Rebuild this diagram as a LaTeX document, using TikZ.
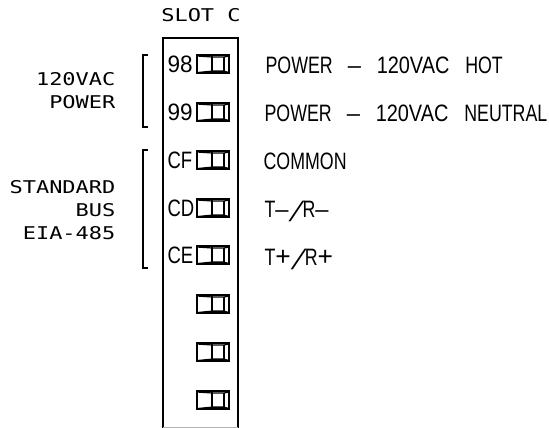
\documentclass[tikz,border=0pt]{standalone}
\usepackage{fontspec}
\newfontfamily\sigfont[FakeStretch=0.75]{Liberation Sans}
\newfontfamily\acfont[FakeStretch=0.84]{Liberation Sans}
\newfontfamily\pinfont[FakeStretch=0.78]{Liberation Sans}
\newfontfamily\numfont[FakeStretch=0.95]{Liberation Sans}
\newfontfamily\symfont{Liberation Sans}
\newfontfamily\slashfont[FakeSlant=0.4]{Liberation Sans}
\newfontfamily\sidefont[FakeStretch=1.25]{DejaVu Sans Mono}
\newcommand{\dashsym}{{\symfont –}}
\newcommand{\plussym}{{\fontsize{15}{15}\symfont +}}
\newcommand{\slashsym}{\raisebox{-2pt}{\fontsize{16}{16}\slashfont /}\hspace{3.5pt}}
\usetikzlibrary{positioning}
\tikzset{
	pinlabel/.style={anchor=west,inner sep=0pt,font=\fontsize{13.5}{15}\pinfont},
	numlabel/.style={anchor=west,inner sep=0pt,font=\fontsize{13.5}{15}\numfont},
	sigtext/.style={anchor=west,inner sep=0pt,font=\fontsize{13.5}{15}\sigfont},
	sidetext/.style={anchor=east,align=right,inner sep=0pt,font=\fontsize{10}{13}\sidefont},
	termbox/.style={draw,line width=1.1pt,minimum width=18.2pt,minimum height=9.8pt,inner sep=0pt},
}
\begin{document}
\begin{tikzpicture}[x=0.02cm,y=-0.02cm,line width=0.7pt]
	\useasboundingbox (0,0) rectangle (549,428);
	\fill[white] (0,0) rectangle (549,428);
	% connector block
	\draw (163,428) -- (163,38) -- (238,38) -- (238,428);
	\draw[gray!60] (163,427.5) -- (238,427.5);
	\node[sidetext,anchor=center] (slot) at (201,15) {SLOT C};
	% terminals
	\foreach \y/\name in {64/98,112/99,160/CF,208/CD,255/CE,304/a,352/b,400/c} {
		\node[termbox] (t\name) at (213,\y) {};
		\draw[line width=0.9pt] (212,\y-8) -- (212,\y+8);
		\draw (197,\y-8) -- (212,\y-7) -- (224,\y-7) -- (229,\y-8);
		\fill (197,\y+8) -- (212,\y+6.5) -- (224,\y+6.5) -- (229,\y+8) -- cycle;
		\draw (224,\y-7) -- (224,\y+7);
	}
	% pin labels
	\node[numlabel] (p98) at (167,64) {98};
	\node[numlabel] (p99) at (167,112) {99};
	\node[pinlabel] (pCF) at (167,160) {CF};
	\node[pinlabel] (pCD) at (167,208) {CD};
	\node[pinlabel] (pCE) at (167,255) {CE};
	% signal names
	\node[sigtext] (hot) at (265,65) {POWER\hspace{8.5pt}\dashsym\hspace{9pt}{\acfont 120VAC}\hspace{9pt}HOT};
	\node[sigtext] (neutral) at (264,113) {POWER\hspace{8.5pt}\dashsym\hspace{9pt}{\acfont 120VAC}\hspace{9pt}NEUTRAL};
	\node[sigtext] (common) at (263,161) {COMMON};
	\node[sigtext] (tminus) at (264,211) {T\dashsym\slashsym R\dashsym};
	\node[sigtext] (tplus) at (264,259) {T\plussym\slashsym R\plussym};
	% brackets
	\draw (148,55) -- (143,55) -- (143,127) -- (148,127);
	\draw (148,150) -- (143,150) -- (143,268) -- (148,268);
	\node[sidetext] (acpower) at (116,91) {120VAC\\POWER};
	\node[sidetext] (stdbus) at (116,210) {STANDARD\\BUS\\EIA-485};
\end{tikzpicture}
\end{document}
